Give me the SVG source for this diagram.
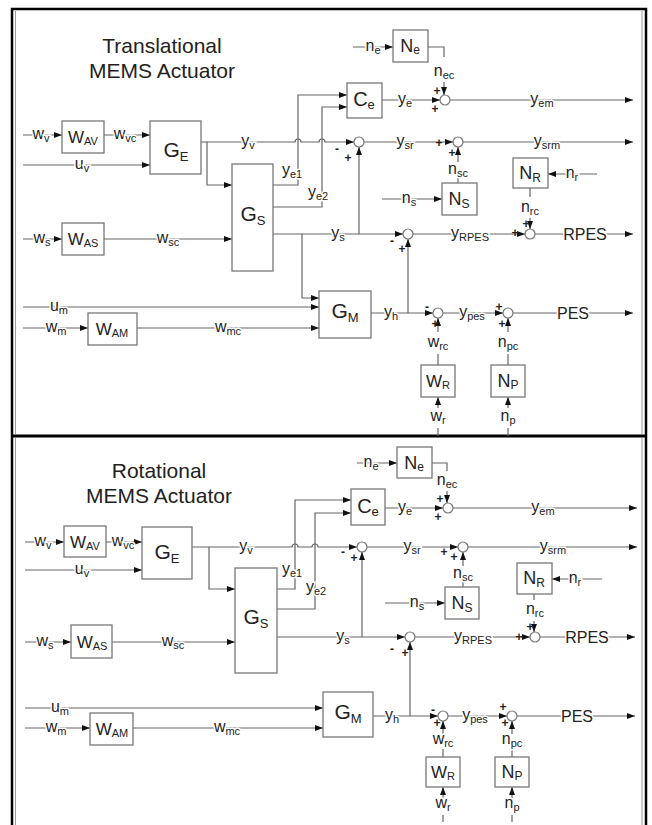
<svg xmlns="http://www.w3.org/2000/svg" width="652" height="825" viewBox="0 0 652 825">
<defs>
<marker id="ah" markerWidth="8" markerHeight="6" refX="8" refY="3" orient="auto" markerUnits="userSpaceOnUse"><path d="M0,0 L8,3 L0,6 z" fill="#111"/></marker>
<style>
.ln{fill:none;stroke:#666;stroke-width:1.2}
.ar{marker-end:url(#ah)}
.bx{fill:#fff;stroke:#777;stroke-width:1.3}
.sj{fill:#fff;stroke:#777;stroke-width:1.2}
text{font-family:"Liberation Sans",Arial,sans-serif;fill:#222}
.t{font-size:21px;text-anchor:middle}
.g{font-size:21px;text-anchor:middle}
.g .s{font-size:13px}
.c{font-size:20px;text-anchor:middle}
.c .s{font-size:13px}
.n{font-size:18px;text-anchor:middle}
.n .s{font-size:12px}
.w{font-size:17px;text-anchor:middle}
.w .s{font-size:11px}
.l{font-size:16px;text-anchor:middle;stroke:#fff;stroke-width:3;paint-order:stroke}
.l .s{font-size:11px}
.sg{font-size:12px;font-weight:bold;text-anchor:middle}
</style>
</defs>
<rect width="652" height="825" fill="#fff"/>
<g id="frame">
<path d="M12 825 V9 H646 V825" fill="none" stroke="#000" stroke-width="2.5"/>
<path d="M12 436 H646" stroke="#000" stroke-width="3"/>
<path d="M15.5 11 V434 M15.5 438 V825 M642 11 V434 M642 438 V825" stroke="#999" stroke-width="1"/>
</g>

<!-- ================= TOP PANEL ================= -->
<g id="top-title"><text class="t" x="162" y="53">Translational</text><text class="t" x="162" y="78">MEMS Actuator</text></g>

<g id="top-connectors">
<path class="ln ar" d="M23 135 H62"/>
<path class="ln ar" d="M104 135 H150"/>
<path class="ln ar" d="M23 165 H150"/>
<path class="ln ar" d="M201 142 H295 a3 3 0 0 1 6 0 H319 a3 3 0 0 1 6 0 H354"/>
<path class="ln ar" d="M207 142 V185 H232"/>
<path class="ln ar" d="M273 185 H298 V95 H347"/>
<path class="ln ar" d="M273 207 H322 V107 H347"/>
<path class="ln ar" d="M273 234 H403"/>
<path class="ln ar" d="M359 234 V147"/>
<path class="ln ar" d="M302 234 V298 H319"/>
<path class="ln ar" d="M23 239 H62"/>
<path class="ln ar" d="M104 239 H232"/>
<path class="ln ar" d="M23 307 H319"/>
<path class="ln ar" d="M23 328 H88"/>
<path class="ln ar" d="M137 328 H319"/>
<path class="ln ar" d="M371 313 H433"/>
<path class="ln ar" d="M408 313 V239"/>
<path class="ln ar" d="M413 234 H525"/>
<path class="ln ar" d="M535 234 H633"/>
<path class="ln ar" d="M443 313 H503"/>
<path class="ln ar" d="M513 313 H633"/>
<path class="ln" d="M438 365 V354"/><path class="ln ar" d="M438 332 V318"/>
<path class="ln" d="M508 365 V354"/><path class="ln ar" d="M508 332 V318"/>
<path class="ln ar" d="M438 408 V397"/><path class="ln" d="M438 428 V436"/>
<path class="ln ar" d="M508 408 V397"/><path class="ln" d="M508 428 V436"/>
<path class="ln ar" d="M353 47 H393"/>
<path class="ln" d="M428 47 H444 V57"/><path class="ln ar" d="M444 82 V95"/>
<path class="ln ar" d="M382 100 H440"/>
<path class="ln ar" d="M450 100 H633"/>
<path class="ln ar" d="M364 142 H453"/>
<path class="ln ar" d="M463 142 H633"/>
<path class="ln" d="M458 183 V177"/><path class="ln ar" d="M458 162 V147"/>
<path class="ln ar" d="M382 199 H442"/>
<path class="ln ar" d="M597 174 H548"/>
<path class="ln" d="M530 188 V197"/><path class="ln ar" d="M530 218 V229"/>
</g>

<g id="top-labels">
<text class="l" x="41" y="139">w<tspan class="s" dy="3">v</tspan></text>
<text class="l" x="125" y="139">w<tspan class="s" dy="3">vc</tspan></text>
<text class="l" x="82" y="169">u<tspan class="s" dy="3">v</tspan></text>
<text class="l" x="248" y="146">y<tspan class="s" dy="3">v</tspan></text>
<text class="l" x="292" y="175">y<tspan class="s" dy="3">e1</tspan></text>
<text class="l" x="318" y="197">y<tspan class="s" dy="3">e2</tspan></text>
<text class="l" x="338" y="238">y<tspan class="s" dy="3">s</tspan></text>
<text class="l" x="42" y="243">w<tspan class="s" dy="3">s</tspan></text>
<text class="l" x="168" y="243">w<tspan class="s" dy="3">sc</tspan></text>
<text class="l" x="59" y="311">u<tspan class="s" dy="3">m</tspan></text>
<text class="l" x="56" y="332">w<tspan class="s" dy="3">m</tspan></text>
<text class="l" x="228" y="332">w<tspan class="s" dy="3">mc</tspan></text>
<text class="l" x="391" y="317">y<tspan class="s" dy="3">h</tspan></text>
<text class="l" x="405" y="104">y<tspan class="s" dy="3">e</tspan></text>
<text class="l" x="542" y="104">y<tspan class="s" dy="3">em</tspan></text>
<text class="l" x="405" y="146">y<tspan class="s" dy="3">sr</tspan></text>
<text class="l" x="547" y="146">y<tspan class="s" dy="3">srm</tspan></text>
<text class="l" x="373" y="51">n<tspan class="s" dy="3">e</tspan></text>
<text class="l" x="444" y="76">n<tspan class="s" dy="3">ec</tspan></text>
<text class="l" x="458" y="174">n<tspan class="s" dy="3">sc</tspan></text>
<text class="l" x="409" y="203">n<tspan class="s" dy="3">s</tspan></text>
<text class="l" x="572" y="178">n<tspan class="s" dy="3">r</tspan></text>
<text class="l" x="530" y="212">n<tspan class="s" dy="3">rc</tspan></text>
<text class="l" x="470" y="238">y<tspan class="s" dy="3">RPES</tspan></text>
<text class="l" x="585" y="240">RPES</text>
<text class="l" x="472" y="317">y<tspan class="s" dy="3">pes</tspan></text>
<text class="l" x="573" y="319">PES</text>
<text class="l" x="438" y="347">w<tspan class="s" dy="3">rc</tspan></text>
<text class="l" x="508" y="347">n<tspan class="s" dy="3">pc</tspan></text>
<text class="l" x="438" y="421">w<tspan class="s" dy="3">r</tspan></text>
<text class="l" x="508" y="421">n<tspan class="s" dy="3">p</tspan></text>
</g>

<g id="top-W_AV"><rect class="bx" x="62" y="121" width="42" height="32"/><text class="w" x="83" y="143">W<tspan class="s" dy="2">AV</tspan></text></g>
<g id="top-G_E"><rect class="bx" x="150" y="121" width="51" height="53"/><text class="g" x="176" y="157">G<tspan class="s" dy="4">E</tspan></text></g>
<g id="top-G_S"><rect class="bx" x="232" y="164" width="41" height="107"/><text class="g" x="253" y="221">G<tspan class="s" dy="4">S</tspan></text></g>
<g id="top-W_AS"><rect class="bx" x="62" y="223" width="42" height="32"/><text class="w" x="83" y="245">W<tspan class="s" dy="2">AS</tspan></text></g>
<g id="top-W_AM"><rect class="bx" x="88" y="313" width="49" height="32"/><text class="w" x="112" y="335">W<tspan class="s" dy="2">AM</tspan></text></g>
<g id="top-G_M"><rect class="bx" x="319" y="291" width="52" height="47"/><text class="g" x="345" y="318">G<tspan class="s" dy="4">M</tspan></text></g>
<g id="top-C_e"><rect class="bx" x="347" y="83" width="35" height="35"/><text class="c" x="364" y="106">C<tspan class="s" dy="3">e</tspan></text></g>
<g id="top-N_e"><rect class="bx" x="393" y="30" width="35" height="32"/><text class="n" x="410" y="52">N<tspan class="s" dy="2">e</tspan></text></g>
<g id="top-N_S"><rect class="bx" x="442" y="183" width="35" height="32"/><text class="n" x="459" y="205">N<tspan class="s" dy="3">S</tspan></text></g>
<g id="top-N_R"><rect class="bx" x="513" y="158" width="35" height="30"/><text class="n" x="530" y="179">N<tspan class="s" dy="3">R</tspan></text></g>
<g id="top-W_R"><rect class="bx" x="421" y="365" width="34" height="32"/><text class="w" x="438" y="387">W<tspan class="s" dy="2">R</tspan></text></g>
<g id="top-N_P"><rect class="bx" x="491" y="365" width="34" height="32"/><text class="n" x="508" y="387">N<tspan class="s" dy="2">P</tspan></text></g>

<g id="top-sum-e"><circle class="sj" cx="445" cy="100" r="5"/><text class="sg" x="437" y="95">+</text><text class="sg" x="435" y="113">+</text></g>
<g id="top-sum-sr"><circle class="sj" cx="359" cy="142" r="5"/><text class="sg" x="337" y="153">-</text><text class="sg" x="348" y="162">+</text></g>
<g id="top-sum-srm"><circle class="sj" cx="458" cy="142" r="5"/><text class="sg" x="439" y="147">+</text><text class="sg" x="452" y="157">+</text></g>
<g id="top-sum-r1"><circle class="sj" cx="408" cy="234" r="5"/><text class="sg" x="392" y="245">-</text><text class="sg" x="402" y="253">+</text></g>
<g id="top-sum-rp"><circle class="sj" cx="530" cy="234" r="5"/><text class="sg" x="515" y="237">+</text><text class="sg" x="526" y="228">+</text></g>
<g id="top-sum-pes"><circle class="sj" cx="438" cy="313" r="5"/><text class="sg" x="427" y="311">-</text><text class="sg" x="435" y="328">+</text></g>
<g id="top-sum-npc"><circle class="sj" cx="508" cy="313" r="5"/><text class="sg" x="499" y="311">+</text><text class="sg" x="502" y="328">+</text></g>

<!-- ================= BOTTOM PANEL ================= -->
<g id="bot-title"><text class="t" x="159" y="478">Rotational</text><text class="t" x="159" y="503">MEMS Actuator</text></g>

<g id="bot-connectors">
<path class="ln ar" d="M25 542 H64"/>
<path class="ln ar" d="M106 542 H142"/>
<path class="ln ar" d="M25 570 H142"/>
<path class="ln ar" d="M192 547 H292 a3 3 0 0 1 6 0 H312 a3 3 0 0 1 6 0 H357"/>
<path class="ln ar" d="M209 547 V589 H235"/>
<path class="ln ar" d="M277 589 H295 V500 H351"/>
<path class="ln ar" d="M277 609 H315 V513 H351"/>
<path class="ln ar" d="M277 637 H405"/>
<path class="ln ar" d="M362 637 V552"/>
<path class="ln ar" d="M25 642 H71"/>
<path class="ln ar" d="M112 642 H235"/>
<path class="ln ar" d="M25 708 H323"/>
<path class="ln ar" d="M25 728 H90"/>
<path class="ln ar" d="M133 728 H323"/>
<path class="ln ar" d="M373 716 H438"/>
<path class="ln ar" d="M410 716 V642"/>
<path class="ln ar" d="M415 637 H530"/>
<path class="ln ar" d="M540 637 H635"/>
<path class="ln ar" d="M448 716 H507"/>
<path class="ln ar" d="M517 716 H635"/>
<path class="ln" d="M443 757 V749"/><path class="ln ar" d="M443 734 V721"/>
<path class="ln" d="M512 757 V749"/><path class="ln ar" d="M512 734 V721"/>
<path class="ln ar" d="M443 798 V787"/><path class="ln" d="M443 815 V822"/>
<path class="ln ar" d="M512 798 V787"/><path class="ln" d="M512 815 V822"/>
<path class="ln ar" d="M357 463 H397"/>
<path class="ln" d="M432 463 H447 V471"/><path class="ln ar" d="M447 491 V503"/>
<path class="ln ar" d="M385 508 H443"/>
<path class="ln ar" d="M453 508 H637"/>
<path class="ln ar" d="M367 547 H458"/>
<path class="ln ar" d="M468 547 H637"/>
<path class="ln" d="M463 587 V582"/><path class="ln ar" d="M463 566 V552"/>
<path class="ln ar" d="M385 603 H445"/>
<path class="ln ar" d="M602 579 H552"/>
<path class="ln" d="M534 594 V600"/><path class="ln ar" d="M534 621 V632"/>
</g>

<g id="bot-labels">
<text class="l" x="43" y="546">w<tspan class="s" dy="3">v</tspan></text>
<text class="l" x="123" y="546">w<tspan class="s" dy="3">vc</tspan></text>
<text class="l" x="82" y="574">u<tspan class="s" dy="3">v</tspan></text>
<text class="l" x="246" y="551">y<tspan class="s" dy="3">v</tspan></text>
<text class="l" x="292" y="574">y<tspan class="s" dy="3">e1</tspan></text>
<text class="l" x="316" y="592">y<tspan class="s" dy="3">e2</tspan></text>
<text class="l" x="343" y="641">y<tspan class="s" dy="3">s</tspan></text>
<text class="l" x="45" y="646">w<tspan class="s" dy="3">s</tspan></text>
<text class="l" x="173" y="646">w<tspan class="s" dy="3">sc</tspan></text>
<text class="l" x="60" y="712">u<tspan class="s" dy="3">m</tspan></text>
<text class="l" x="56" y="732">w<tspan class="s" dy="3">m</tspan></text>
<text class="l" x="227" y="732">w<tspan class="s" dy="3">mc</tspan></text>
<text class="l" x="392" y="720">y<tspan class="s" dy="3">h</tspan></text>
<text class="l" x="405" y="512">y<tspan class="s" dy="3">e</tspan></text>
<text class="l" x="543" y="512">y<tspan class="s" dy="3">em</tspan></text>
<text class="l" x="412" y="551">y<tspan class="s" dy="3">sr</tspan></text>
<text class="l" x="553" y="551">y<tspan class="s" dy="3">srm</tspan></text>
<text class="l" x="371" y="467">n<tspan class="s" dy="3">e</tspan></text>
<text class="l" x="447" y="485">n<tspan class="s" dy="3">ec</tspan></text>
<text class="l" x="463" y="578">n<tspan class="s" dy="3">sc</tspan></text>
<text class="l" x="417" y="607">n<tspan class="s" dy="3">s</tspan></text>
<text class="l" x="575" y="583">n<tspan class="s" dy="3">r</tspan></text>
<text class="l" x="535" y="614">n<tspan class="s" dy="3">rc</tspan></text>
<text class="l" x="473" y="641">y<tspan class="s" dy="3">RPES</tspan></text>
<text class="l" x="587" y="643">RPES</text>
<text class="l" x="475" y="720">y<tspan class="s" dy="3">pes</tspan></text>
<text class="l" x="577" y="722">PES</text>
<text class="l" x="443" y="744">w<tspan class="s" dy="3">rc</tspan></text>
<text class="l" x="512" y="744">n<tspan class="s" dy="3">pc</tspan></text>
<text class="l" x="443" y="808">w<tspan class="s" dy="3">r</tspan></text>
<text class="l" x="512" y="808">n<tspan class="s" dy="3">p</tspan></text>
</g>

<g id="bot-W_AV"><rect class="bx" x="64" y="526" width="42" height="31"/><text class="w" x="85" y="548">W<tspan class="s" dy="2">AV</tspan></text></g>
<g id="bot-G_E"><rect class="bx" x="142" y="527" width="50" height="52"/><text class="g" x="167" y="559">G<tspan class="s" dy="4">E</tspan></text></g>
<g id="bot-G_S"><rect class="bx" x="235" y="568" width="42" height="105"/><text class="g" x="256" y="624">G<tspan class="s" dy="4">S</tspan></text></g>
<g id="bot-W_AS"><rect class="bx" x="71" y="625" width="41" height="33"/><text class="w" x="92" y="648">W<tspan class="s" dy="2">AS</tspan></text></g>
<g id="bot-W_AM"><rect class="bx" x="90" y="713" width="43" height="32"/><text class="w" x="112" y="735">W<tspan class="s" dy="2">AM</tspan></text></g>
<g id="bot-G_M"><rect class="bx" x="323" y="692" width="50" height="45"/><text class="g" x="348" y="719">G<tspan class="s" dy="4">M</tspan></text></g>
<g id="bot-C_e"><rect class="bx" x="351" y="489" width="34" height="36"/><text class="c" x="368" y="513">C<tspan class="s" dy="3">e</tspan></text></g>
<g id="bot-N_e"><rect class="bx" x="397" y="447" width="35" height="31"/><text class="n" x="414" y="469">N<tspan class="s" dy="2">e</tspan></text></g>
<g id="bot-N_S"><rect class="bx" x="445" y="587" width="34" height="32"/><text class="n" x="462" y="609">N<tspan class="s" dy="3">S</tspan></text></g>
<g id="bot-N_R"><rect class="bx" x="517" y="563" width="35" height="31"/><text class="n" x="534" y="584">N<tspan class="s" dy="3">R</tspan></text></g>
<g id="bot-W_R"><rect class="bx" x="426" y="757" width="34" height="30"/><text class="w" x="443" y="778">W<tspan class="s" dy="2">R</tspan></text></g>
<g id="bot-N_P"><rect class="bx" x="495" y="757" width="34" height="30"/><text class="n" x="512" y="778">N<tspan class="s" dy="2">P</tspan></text></g>

<g id="bot-sum-e"><circle class="sj" cx="448" cy="508" r="5"/><text class="sg" x="440" y="503">+</text><text class="sg" x="438" y="521">+</text></g>
<g id="bot-sum-sr"><circle class="sj" cx="362" cy="547" r="5"/><text class="sg" x="343" y="556">-</text><text class="sg" x="354" y="562">+</text></g>
<g id="bot-sum-srm"><circle class="sj" cx="463" cy="547" r="5"/><text class="sg" x="444" y="556">+</text><text class="sg" x="454" y="561">+</text></g>
<g id="bot-sum-r1"><circle class="sj" cx="410" cy="637" r="5"/><text class="sg" x="392" y="653">-</text><text class="sg" x="405" y="657">+</text></g>
<g id="bot-sum-rp"><circle class="sj" cx="535" cy="637" r="5"/><text class="sg" x="519" y="641">+</text><text class="sg" x="530" y="631">+</text></g>
<g id="bot-sum-pes"><circle class="sj" cx="443" cy="716" r="5"/><text class="sg" x="433" y="714">-</text><text class="sg" x="437" y="727">+</text></g>
<g id="bot-sum-npc"><circle class="sj" cx="512" cy="716" r="5"/><text class="sg" x="503" y="711">+</text><text class="sg" x="505" y="727">+</text></g>
</svg>
